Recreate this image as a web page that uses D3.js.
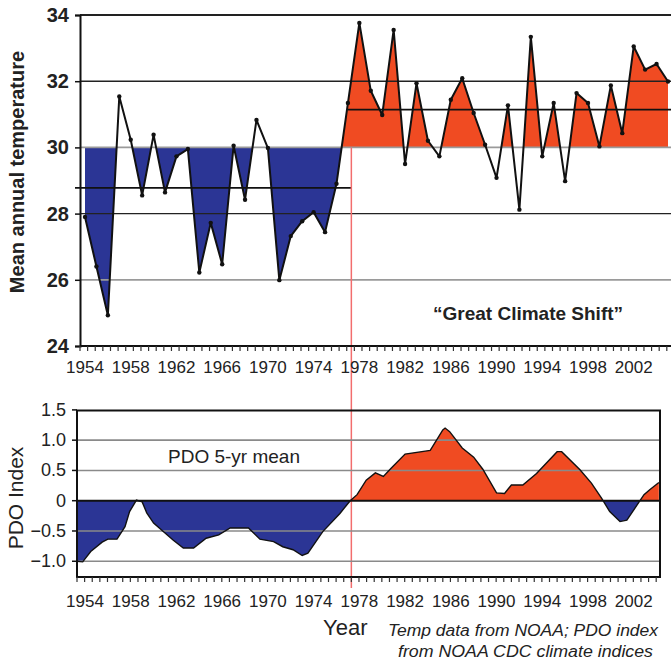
<!DOCTYPE html>
<html><head><meta charset="utf-8">
<script src="https://cdn.jsdelivr.net/npm/d3@7"></script>
<style>
html,body{margin:0;padding:0;background:#fff;}
svg{display:block;font-family:"Liberation Sans",Arial,Helvetica,sans-serif;}
</style></head>
<body><svg id="c" width="671" height="662"></svg>
<script>
// ---------- DATA ----------
const years = [1954,1955,1956,1957,1958,1959,1960,1961,1962,1963,1964,1965,1966,1967,1968,1969,1970,
  1971,1972,1973,1974,1975,1976,1977,1978,1979,1980,1981,1982,1983,1984,1985,1986,1987,1988,1989,1990,
  1991,1992,1993,1994,1995,1996,1997,1998,1999,2000,2001,2002,2003,2004,2005];
const temperature = [27.9,26.4,24.93,31.54,30.23,28.55,30.38,28.64,29.73,29.95,26.22,27.72,26.47,30.05,
  28.42,30.83,29.98,25.99,27.32,27.77,28.04,27.44,28.9,31.34,33.76,31.71,30.98,33.55,29.5,31.94,30.2,
  29.73,31.44,32.09,31.04,30.08,29.08,31.27,28.12,33.34,29.73,31.34,28.98,31.64,31.34,30.03,31.87,30.43,
  33.05,32.35,32.52,31.99];
const tempBaseline = 30;
const meanBefore = 28.78;
const meanAfter = 31.14;
const shiftYear = 1977.3;
const pdoYears = [1953.3,1953.8,1954.5,1955.5,1956.0,1956.8,1957.5,1957.9,1958.5,1959.0,1959.4,1960.0,
  1960.85,1961.7,1962.6,1963.5,1964.6,1965.7,1966.7,1968.3,1969.3,1970.5,1971.3,1972.2,1973.0,1973.5,
  1974.8,1976.3,1977.2,1977.8,1978.6,1979.4,1980.1,1980.8,1982.0,1984.2,1985.3,1985.5,1985.9,1987.0,
  1988.0,1988.8,1990.0,1990.7,1991.3,1992.3,1993.5,1995.3,1995.7,1997.3,1998.3,1999.2,1999.9,2000.8,
  2001.4,2002.3,2002.9,2003.4,2004.2];
const pdoValues = [-1.0,-1.01,-0.84,-0.685,-0.635,-0.635,-0.43,-0.18,0.01,-0.02,-0.2,-0.37,
  -0.51,-0.65,-0.78,-0.78,-0.62,-0.565,-0.45,-0.45,-0.635,-0.675,-0.76,-0.81,-0.905,-0.865,
  -0.51,-0.21,0.0,0.1,0.34,0.46,0.40,0.54,0.77,0.83,1.17,1.20,1.14,0.87,
  0.72,0.52,0.13,0.12,0.26,0.26,0.45,0.81,0.81,0.51,0.29,0.04,-0.18,-0.345,
  -0.32,-0.07,0.10,0.18,0.30];
const yearLabels = [1954,1958,1962,1966,1970,1974,1978,1982,1986,1990,1994,1998,2002];
const tempTicks = [24,26,28,30,32,34];
const pdoTicks = [-1.0,-0.5,0,0.5,1.0,1.5];
const pdoTickText = ["\u22121.0","\u22120.5","0","0.5","1.0","1.5"];
const minorTickStep = 2/3;   // years between minor axis ticks

// ---------- STYLE ----------
const BLUE = "#2b3595", RED = "#f04b22", SHIFT = "#f26d6d";
const svg = d3.select("#c");

const x = d3.scaleLinear().domain([1954, 2005]).range([85, 668]);

// ===== TOP CHART =====
const T = {l:80, r:671, t:15, b:346};
const yT = d3.scaleLinear().domain([24, 34]).range([T.b, T.t]);
const tdata = years.map((yr,i)=>({yr, v:temperature[i]}));

const defs = svg.append("defs");
defs.append("clipPath").attr("id","clipBlueT").append("rect")
  .attr("x",T.l).attr("y",yT(tempBaseline)).attr("width",x(1977)-T.l).attr("height",T.b-yT(tempBaseline));
defs.append("clipPath").attr("id","clipRedT").append("rect")
  .attr("x",x(1976)).attr("y",T.t).attr("width",T.r-x(1976)).attr("height",yT(tempBaseline)-T.t);

const areaT = d3.area().x(d=>x(d.yr)).y0(yT(tempBaseline)).y1(d=>yT(d.v));
svg.append("path").datum(tdata).attr("d",areaT).attr("fill",BLUE).attr("clip-path","url(#clipBlueT)");
svg.append("path").datum(tdata).attr("d",areaT).attr("fill",RED).attr("clip-path","url(#clipRedT)");

// gridlines
const gT = svg.append("g");
[26,28,30,32].forEach(v=>{
  gT.append("line").attr("x1",T.l).attr("x2",T.r).attr("y1",yT(v)).attr("y2",yT(v))
    .attr("stroke", (v===28||v===32)?"#222":"#9a9a9a").attr("stroke-width",(v===28||v===32)?1.4:1.8);
});
gT.append("line").attr("x1",T.l).attr("x2",T.r).attr("y1",T.t).attr("y2",T.t).attr("stroke","#222").attr("stroke-width",2);
// mean lines
gT.append("line").attr("x1",T.l-5).attr("x2",x(shiftYear)).attr("y1",yT(meanBefore)).attr("y2",yT(meanBefore))
  .attr("stroke","#111").attr("stroke-width",1.8);
gT.append("line").attr("x1",x(1977)).attr("x2",T.r).attr("y1",yT(meanAfter)).attr("y2",yT(meanAfter))
  .attr("stroke","#111").attr("stroke-width",1.8);

// shift line
svg.append("line").attr("x1",x(shiftYear)).attr("x2",x(shiftYear)).attr("y1",yT(tempBaseline)).attr("y2",588)
  .attr("stroke",SHIFT).attr("stroke-width",1.5);

// temperature line + dots
svg.append("path").datum(tdata).attr("d",d3.line().x(d=>x(d.yr)).y(d=>yT(d.v)))
  .attr("fill","none").attr("stroke","#111").attr("stroke-width",2).attr("stroke-linejoin","round");
svg.append("g").selectAll("circle").data(tdata).join("circle")
  .attr("cx",d=>x(d.yr)).attr("cy",d=>yT(d.v)).attr("r",2.2).attr("fill","#111");

// axes
const axL = svg.append("g").attr("transform",`translate(${T.l},0)`)
  .call(d3.axisLeft(yT).tickValues(tempTicks).tickSize(5).tickFormat(d3.format("d")));
axL.select(".domain").attr("stroke","#111").attr("stroke-width",2);
axL.selectAll(".tick line").attr("stroke","#111").attr("stroke-width",1.5);
axL.selectAll("text").attr("font-size",20).attr("font-weight","bold").attr("fill","#222")
  .attr("font-family","Liberation Sans, Arial, sans-serif").attr("dx",-3);

svg.append("line").attr("x1",T.l).attr("x2",T.r).attr("y1",T.b).attr("y2",T.b).attr("stroke","#111").attr("stroke-width",2);
const topTicks = d3.range(x.invert(T.l), x.invert(T.r), minorTickStep);
svg.append("g").selectAll("line").data(topTicks).join("line")
  .attr("x1",d=>x(d)).attr("x2",d=>x(d)).attr("y1",T.b).attr("y2",T.b+5).attr("stroke","#333").attr("stroke-width",1.2);
svg.append("g").selectAll("text").data(yearLabels).join("text")
  .attr("x",d=>x(d)).attr("y",373).attr("text-anchor","middle").attr("font-size",17).attr("fill","#222").text(d=>d);

svg.append("text").attr("transform","translate(24,172) rotate(-90)").attr("text-anchor","middle")
  .attr("font-size",20).attr("font-weight","bold").attr("fill","#222").text("Mean annual temperature");
svg.append("text").attr("x",433).attr("y",320).attr("font-size",19).attr("font-weight","bold").attr("fill","#222")
  .text("\u201cGreat Climate Shift\u201d");

// ===== BOTTOM CHART =====
const B = {l:77, r:660, t:410.5, b:577};
const yB = d3.scaleLinear().domain([-1.26, 1.49]).range([B.b, B.t]);
const pdata = pdoYears.map((yr,i)=>({yr, v:pdoValues[i]}));

defs.append("clipPath").attr("id","clipBlueB").append("rect").attr("x",B.l).attr("y",yB(0)).attr("width",B.r-B.l).attr("height",B.b-yB(0));
defs.append("clipPath").attr("id","clipRedB").append("rect").attr("x",B.l).attr("y",B.t).attr("width",B.r-B.l).attr("height",yB(0)-B.t);

const areaB = d3.area().x(d=>Math.max(B.l, x(d.yr))).y0(yB(0)).y1(d=>yB(d.v));
svg.append("path").datum(pdata).attr("d",areaB).attr("fill",BLUE).attr("clip-path","url(#clipBlueB)");
svg.append("path").datum(pdata).attr("d",areaB).attr("fill",RED).attr("clip-path","url(#clipRedB)");

[-1.0,-0.5,0.5,1.0].forEach(v=>{
  svg.append("line").attr("x1",B.l).attr("x2",B.r).attr("y1",yB(v)).attr("y2",yB(v))
    .attr("stroke","#8a8a8a").attr("stroke-width",1.6);
});
svg.append("path").datum(pdata).attr("d",d3.line().x(d=>Math.max(B.l,x(d.yr))).y(d=>yB(d.v)))
  .attr("fill","none").attr("stroke","#111").attr("stroke-width",1.4);
svg.append("line").attr("x1",B.l).attr("x2",B.r).attr("y1",yB(0)).attr("y2",yB(0)).attr("stroke","#111").attr("stroke-width",2);
svg.append("rect").attr("x",B.l).attr("y",B.t).attr("width",B.r-B.l).attr("height",B.b-B.t)
  .attr("fill","none").attr("stroke","#111").attr("stroke-width",2);

svg.append("g").selectAll("line").data(pdoTicks).join("line")
  .attr("x1",B.l-5).attr("x2",B.l).attr("y1",d=>yB(d)).attr("y2",d=>yB(d)).attr("stroke","#111").attr("stroke-width",1.5);
svg.append("g").selectAll("text").data(pdoTicks).join("text")
  .attr("x",66).attr("y",d=>yB(d)+6).attr("text-anchor","end").attr("font-size",18).attr("fill","#222")
  .text((d,i)=>pdoTickText[i]);
const botTicks = d3.range(x.invert(B.l), x.invert(B.r)+0.01, minorTickStep);
svg.append("g").selectAll("line").data(botTicks).join("line")
  .attr("x1",d=>x(d)).attr("x2",d=>x(d)).attr("y1",B.b).attr("y2",B.b+5).attr("stroke","#333").attr("stroke-width",1.2);
svg.append("g").selectAll("text").data(yearLabels).join("text")
  .attr("x",d=>x(d)).attr("y",607).attr("text-anchor","middle").attr("font-size",17).attr("fill","#222").text(d=>d);

svg.append("text").attr("transform","translate(23,498) rotate(-90)").attr("text-anchor","middle")
  .attr("font-size",21).attr("fill","#222").text("PDO Index");
svg.append("text").attr("x",168).attr("y",463).attr("font-size",19).attr("fill","#222").text("PDO 5-yr mean");
svg.append("text").attr("x",323).attr("y",635).attr("font-size",22).attr("fill","#222").text("Year");
svg.append("text").attr("x",388).attr("y",636).attr("font-size",16).attr("font-style","italic").attr("fill","#222")
  .attr("textLength",270).attr("lengthAdjust","spacingAndGlyphs").text("Temp data from NOAA; PDO index");
svg.append("text").attr("x",398).attr("y",657).attr("font-size",16).attr("font-style","italic").attr("fill","#222")
  .attr("textLength",255).attr("lengthAdjust","spacingAndGlyphs").text("from NOAA CDC climate indices");
</script></body></html>
